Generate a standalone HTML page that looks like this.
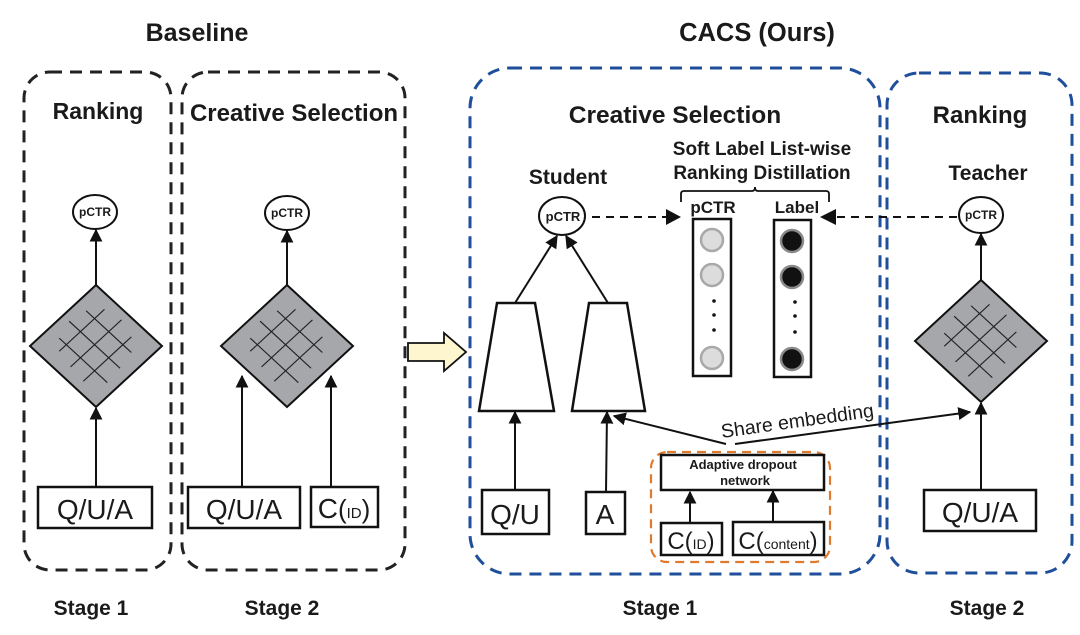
<!DOCTYPE html>
<html><head><meta charset="utf-8"><style>html,body{margin:0;padding:0;background:#fff}svg{display:block}text{font-family:"Liberation Sans","DejaVu Sans",sans-serif;fill:#1a1a1a}</style></head><body>
<svg width="1080" height="635" viewBox="0 0 1080 635" xmlns="http://www.w3.org/2000/svg">
<defs>
<marker id="ah" viewBox="0 0 10 10" refX="9" refY="5" markerWidth="13" markerHeight="13" markerUnits="userSpaceOnUse" orient="auto"><path d="M0,0L10,5L0,10z" fill="#111"/></marker>
<g id="dia">
<path d="M0,-61L66,0L0,61L-66,0z" fill="#a6a7aa" stroke="#111" stroke-width="2"/>
<g transform="scale(1,0.924) rotate(45)" stroke="#222" stroke-width="1.2">
<line x1="-22" y1="-34" x2="-22" y2="30"/><line x1="-2" y1="-38" x2="-2" y2="34"/><line x1="18" y1="-32" x2="18" y2="36"/>
<line x1="-34" y1="-20" x2="30" y2="-20"/><line x1="-38" y1="0" x2="34" y2="0"/><line x1="-32" y1="20" x2="36" y2="20"/>
</g></g>
</defs>
<g font-weight="bold">
<text x="197" y="41" font-size="25" text-anchor="middle">Baseline</text>
<text x="757" y="41" font-size="25.5" text-anchor="middle">CACS (Ours)</text>
<text x="98" y="119" font-size="23" text-anchor="middle">Ranking</text>
<text x="294" y="121" font-size="24" text-anchor="middle">Creative Selection</text>
<text x="675" y="123" font-size="24.5" text-anchor="middle">Creative Selection</text>
<text x="980" y="123" font-size="24" text-anchor="middle">Ranking</text>
<text x="568" y="184" font-size="21" text-anchor="middle">Student</text>
<text x="988" y="180" font-size="21" text-anchor="middle">Teacher</text>
<text x="762" y="155" font-size="19" text-anchor="middle">Soft Label List-wise</text>
<text x="762" y="179" font-size="19" text-anchor="middle">Ranking Distillation</text>
<text x="713" y="213" font-size="17" text-anchor="middle">pCTR</text>
<text x="797" y="213" font-size="17" text-anchor="middle">Label</text>
<text x="91" y="615" font-size="21" text-anchor="middle">Stage 1</text>
<text x="282" y="615" font-size="21" text-anchor="middle">Stage 2</text>
<text x="660" y="615" font-size="21" text-anchor="middle">Stage 1</text>
<text x="987" y="615" font-size="21" text-anchor="middle">Stage 2</text>
</g>
<g fill="none" stroke-width="3" stroke-dasharray="12,8">
<rect x="24" y="72" width="147" height="498" rx="26" stroke="#222"/>
<rect x="182" y="72" width="223" height="498" rx="26" stroke="#222"/>
<rect x="470" y="68" width="410" height="506" rx="40" stroke="#1f4e9a"/>
<rect x="887" y="73" width="185" height="500" rx="32" stroke="#1f4e9a"/>
<rect x="651" y="452" width="179" height="110" rx="16" stroke="#e07b2e" stroke-width="2.2" stroke-dasharray="9,6"/>
</g>
<path d="M408,343H444V333L466,352L444,371V361H408z" fill="#fdf6cf" stroke="#111" stroke-width="1.8"/>
<use href="#dia" x="96" y="346"/>
<use href="#dia" x="287" y="346"/>
<use href="#dia" x="981" y="341"/>
<g fill="#fff" stroke="#111" stroke-width="2">
<ellipse cx="95" cy="212" rx="22" ry="17"/>
<ellipse cx="287" cy="213" rx="22" ry="17"/>
<ellipse cx="562" cy="216" rx="23" ry="19"/>
<ellipse cx="981" cy="215" rx="22" ry="18"/>
</g>
<g font-size="12" font-weight="bold" text-anchor="middle">
<text x="95" y="216">pCTR</text><text x="287" y="217">pCTR</text><text x="563" y="221" font-size="13">pCTR</text><text x="981" y="219">pCTR</text>
</g>
<g fill="#fff" stroke="#111" stroke-width="2.5">
<rect x="38" y="487" width="114" height="41"/>
<rect x="188" y="487" width="112" height="41"/>
<rect x="311" y="487" width="67" height="40"/>
<rect x="482" y="490" width="67" height="44"/>
<rect x="586" y="492" width="39" height="42"/>
<rect x="661" y="455" width="163" height="35"/>
<rect x="661" y="523" width="61" height="32"/>
<rect x="733" y="522" width="91" height="33"/>
<rect x="924" y="490" width="112" height="41"/>
<rect x="693" y="219" width="38" height="157"/>
<rect x="774" y="220" width="37" height="157"/>
<path d="M497,303H535L554,411H479z"/>
<path d="M589,303H627L645,411H572z"/>
</g>
<g font-size="28" text-anchor="middle" fill="#222">
<text x="95" y="519">Q/U/A</text><text x="244" y="519">Q/U/A</text>
<text x="980" y="522">Q/U/A</text><text x="515" y="524">Q/U</text><text x="605" y="524">A</text>
<text x="344" y="518">C<tspan font-size="26">(</tspan><tspan font-size="15">ID</tspan><tspan font-size="26">)</tspan></text>
<text x="691" y="549" font-size="24">C<tspan>(</tspan><tspan font-size="14">ID</tspan>)</text>
<text x="778" y="549" font-size="24">C<tspan>(</tspan><tspan font-size="14">content</tspan>)</text>
</g>
<text x="743" y="469" font-size="13" font-weight="bold" text-anchor="middle">Adaptive dropout</text>
<text x="745" y="485" font-size="13" font-weight="bold" text-anchor="middle">network</text>
<g stroke-width="2.5">
<circle cx="712" cy="240" r="11" fill="#dcdcdc" stroke="#a8a8a8"/>
<circle cx="712" cy="275" r="11" fill="#dcdcdc" stroke="#a8a8a8"/>
<circle cx="712" cy="358" r="11" fill="#dcdcdc" stroke="#a8a8a8"/>
<circle cx="792" cy="241" r="11" fill="#111" stroke="#8a8a8a"/>
<circle cx="792" cy="277" r="11" fill="#111" stroke="#8a8a8a"/>
<circle cx="792" cy="359" r="11" fill="#111" stroke="#8a8a8a"/>
</g>
<g fill="#111"><circle cx="714" cy="301" r="1.8"/><circle cx="714" cy="315" r="1.8"/><circle cx="714" cy="330" r="1.8"/>
<circle cx="795" cy="302" r="1.8"/><circle cx="795" cy="316" r="1.8"/><circle cx="795" cy="332" r="1.8"/></g>
<path d="M681,202V194Q681,191 684,191H752Q755,191 755,187Q755,191 758,191H826Q829,191 829,194V202" fill="none" stroke="#111" stroke-width="1.8"/>
<g stroke="#111" stroke-width="2" fill="none" marker-end="url(#ah)">
<line x1="96" y1="285" x2="96" y2="230"/>
<line x1="96" y1="487" x2="96" y2="408"/>
<line x1="287" y1="285" x2="287" y2="231"/>
<line x1="242" y1="487" x2="242" y2="376"/>
<line x1="331" y1="487" x2="331" y2="376"/>
<line x1="981" y1="280" x2="981" y2="234"/>
<line x1="981" y1="490" x2="981" y2="403"/>
<line x1="515" y1="303" x2="557" y2="236"/>
<line x1="608" y1="303" x2="566" y2="236"/>
<line x1="515" y1="490" x2="515" y2="412"/>
<line x1="606" y1="492" x2="607" y2="412"/>
<line x1="726" y1="444" x2="614" y2="416"/>
<line x1="735" y1="444" x2="970" y2="412"/>
<line x1="690" y1="523" x2="690" y2="492"/>
<line x1="773" y1="522" x2="773" y2="491"/>
</g>
<g stroke="#111" stroke-width="2" stroke-dasharray="8,6" fill="none">
<line x1="592" y1="217" x2="668" y2="217"/>
<line x1="957" y1="217" x2="834" y2="217"/>
</g>
<path d="M666,209L681,217L666,225z M836,209L820,217L836,225z" fill="#111"/>
<text x="722" y="438" font-size="19.5" transform="rotate(-8 722 438)">Share embedding</text>
</svg>
</body></html>
